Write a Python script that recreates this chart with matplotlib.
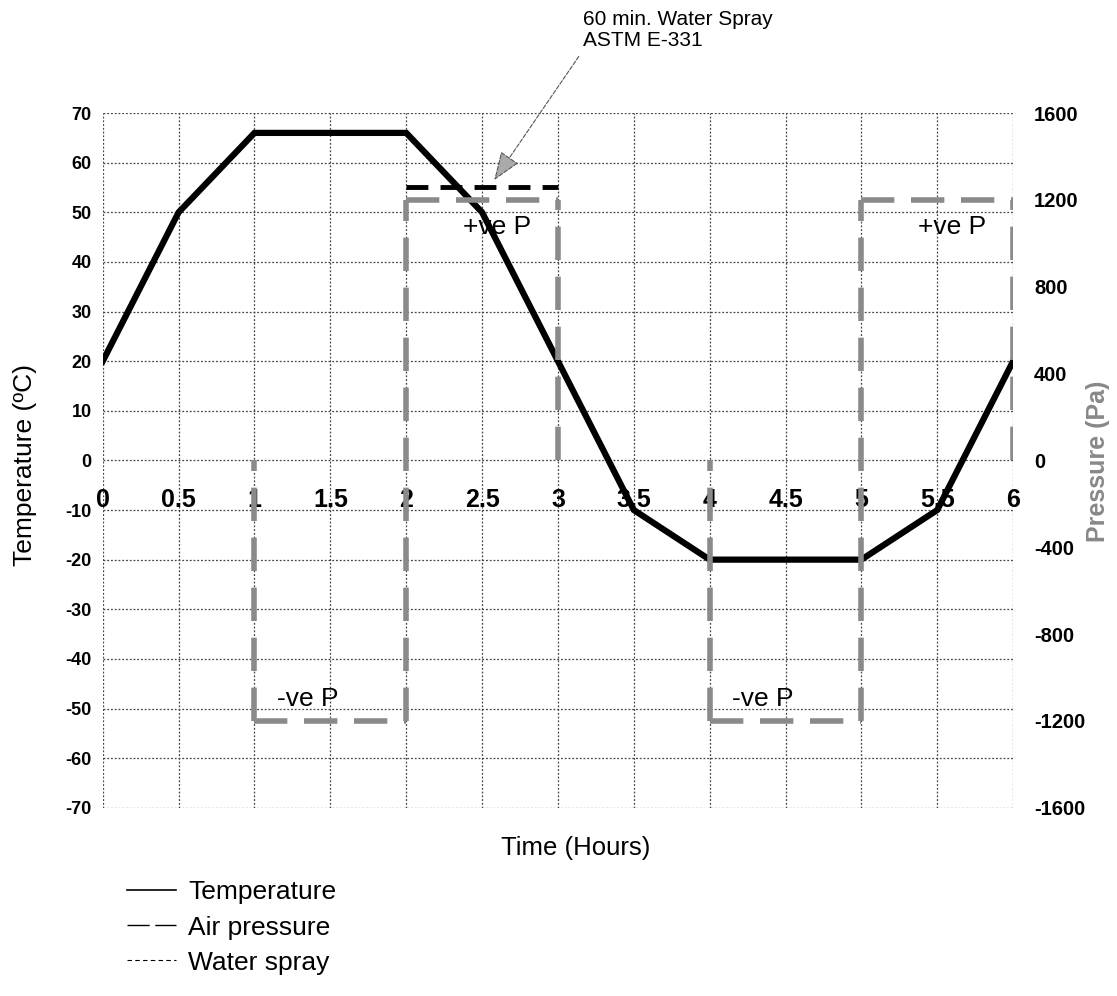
import numpy as np
import matplotlib.pyplot as plt
from matplotlib.lines import Line2D

plt.rcParams['font.family'] = ['Liberation Sans', 'DejaVu Sans']

# temperature profile (deg C) vs time (hours)
temp_time = [0, 0.5, 1, 2, 2.5, 3, 3.5, 4, 5, 5.5, 6]
temp_vals = [20, 50, 66, 66, 50, 20, -10, -20, -20, -10, 20]

# air pressure levels (Pa) held over each hour
press_start = [0, 1, 2, 3, 4, 5]
press_level = [0, -1200, 1200, 0, -1200, 1200]

# water spray period
spray_time = [2, 3]
spray_level = 1260

x_ticks = [0, 0.5, 1, 1.5, 2, 2.5, 3, 3.5, 4, 4.5, 5, 5.5, 6]
x_labels = ['0', '0.5', '1', '1.5', '2', '2.5', '3', '3.5', '4', '4.5', '5', '5.5', '6']
t_ticks = list(range(-70, 71, 10))
p_ticks = list(range(-1600, 1601, 400))

fig = plt.figure(figsize=(11.17, 9.96), dpi=100)
ax = fig.add_axes([0.092, 0.189, 0.815, 0.6975])
ax2 = ax.twinx()

ax.set_xlim(0, 6)
ax.set_ylim(-70, 70)
ax2.set_ylim(-1600, 1600)

# x tick labels sit just under the zero line
ax.spines['bottom'].set_position(('data', 0))
for a in (ax, ax2):
    for s in a.spines.values():
        s.set_visible(False)

ax.set_xticks(x_ticks)
ax.set_xticklabels(x_labels)
ax.set_yticks(t_ticks)
ax.set_yticklabels([str(t) for t in t_ticks])
ax2.set_yticks(p_ticks)
ax2.set_yticklabels([str(p) for p in p_ticks])

ax.tick_params(axis='x', length=0, pad=20, labelsize=18)
ax.tick_params(axis='y', length=0, pad=8, labelsize=13)
ax2.tick_params(axis='y', length=0, pad=15, labelsize=14.5)
for lbl in ax.get_xticklabels() + ax.get_yticklabels() + ax2.get_yticklabels():
    lbl.set_fontweight('bold')

ax.grid(True, linestyle=(0, (1.5, 1.5)), color='#444444', linewidth=0.9)
ax.set_axisbelow(True)

# temperature
ax.plot(temp_time, temp_vals, color='black', lw=4.5, solid_joinstyle='miter', zorder=5)

# air pressure steps
gray = '#8a8a8a'
pdash = (0, (6, 3))
prev = 0
for t0, lvl in zip(press_start, press_level):
    if lvl != prev:
        ax2.vlines(t0, min(prev, lvl), max(prev, lvl), color=gray, lw=4, linestyles=[pdash], zorder=4)
    if lvl != 0:
        ax2.hlines(lvl, t0, t0 + 1, color=gray, lw=4, linestyles=[pdash], zorder=4)
    prev = lvl
if prev != 0:
    ax2.vlines(6, 0, prev, color=gray, lw=4, linestyles=[pdash], zorder=4)

# water spray
ax2.plot(spray_time, [spray_level] * 2, color='black', lw=3.5, linestyle=(0, (4.5, 2.5)), zorder=6)

# region labels
ax.text(2.6, 47, '+ve P', fontsize=19, ha='center', va='center')
ax.text(5.6, 47, '+ve P', fontsize=19, ha='center', va='center')
ax.text(1.35, -48, '-ve P', fontsize=19, ha='center', va='center')
ax.text(4.35, -48, '-ve P', fontsize=19, ha='center', va='center')

# annotation
ax.annotate('60 min. Water Spray\nASTM E-331', xy=(2.58, 56.5), xycoords='data',
            xytext=(0.522, 0.99), textcoords='figure fraction',
            fontsize=15, ha='left', va='top', linespacing=1.15,
            arrowprops=dict(arrowstyle='-|>,head_length=1.2,head_width=0.45', linestyle='--',
                            color='#555555', lw=0.8, fc='#aaaaaa',
                            relpos=(0.0, 0.0), shrinkA=3, shrinkB=0))

# axis titles
fig.text(0.022, 0.533, 'Temperature (ºC)', rotation=90, fontsize=19, ha='center', va='center')
fig.text(0.983, 0.537, 'Pressure (Pa)', rotation=90, fontsize=18, fontweight='bold',
         color='#888888', ha='center', va='center')
fig.text(0.515, 0.149, 'Time (Hours)', fontsize=18.5, ha='center', va='center')

# legend
handles = [Line2D([], [], color='black', lw=1.2),
           Line2D([], [], color='black', lw=1.0, linestyle=(0, (16, 4))),
           Line2D([], [], color='black', lw=0.8, linestyle=(0, (4, 3)))]
fig.legend(handles, ['Temperature', 'Air pressure', 'Water spray'],
           loc='upper left', bbox_to_anchor=(0.114, 0.116), frameon=False,
           fontsize=19, handlelength=1.85, handletextpad=0.45, labelspacing=0.42,
           borderpad=0, borderaxespad=0)

fig.savefig('out.png', dpi=100)
